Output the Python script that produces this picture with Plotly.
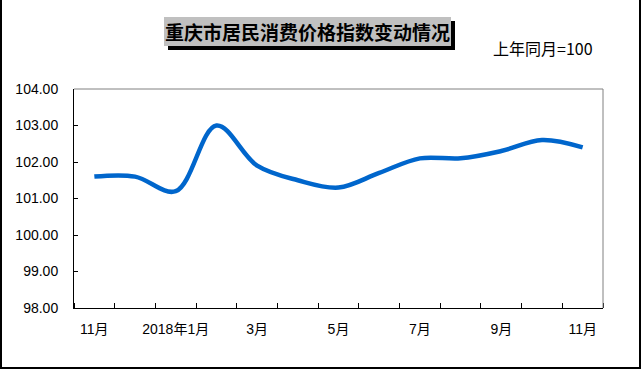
import plotly.graph_objects as go

# Data
months = ["2017年11月", "12月", "2018年1月", "2月", "3月", "4月", "5月",
          "6月", "7月", "8月", "9月", "10月", "11月"]
cpi = [101.6, 101.6, 101.2, 103.0, 101.9, 101.5, 101.3,
       101.7, 102.1, 102.1, 102.3, 102.6, 102.4]
tick_labels = ["11月", "2018年1月", "3月", "5月", "7月", "9月", "11月"]
y_ticks = [98, 99, 100, 101, 102, 103, 104]

W, H = 642, 369
L, R, T, B = 74, 603, 89, 308
PW, PH = R - L, B - T

def px(x):
    return (x - L) / PW

def py(y):
    return (B - y) / PH

idx = list(range(len(months)))

fig = go.Figure()
fig.add_trace(go.Scatter(
    x=idx, y=cpi, mode="lines",
    line=dict(color="#0066CC", width=4.5, shape="spline", smoothing=1.0),
    hoverinfo="skip", showlegend=False,
))

shapes = [
    # plot frame top/right (gray)
    dict(type="line", xref="paper", yref="paper", x0=0, x1=1, y0=1, y1=1,
         line=dict(color="#808080", width=1)),
    dict(type="line", xref="paper", yref="paper", x0=1, x1=1, y0=0, y1=1,
         line=dict(color="#808080", width=1)),
    # outer border
    dict(type="line", xref="paper", yref="paper", x0=px(1), x1=px(1), y0=py(0), y1=py(368),
         line=dict(color="black", width=2)),
    dict(type="line", xref="paper", yref="paper", x0=px(640), x1=px(640), y0=py(0), y1=py(368),
         line=dict(color="black", width=2)),
    dict(type="line", xref="paper", yref="paper", x0=px(0), x1=px(641), y0=py(368), y1=py(368),
         line=dict(color="black", width=2)),
    # title shadow
    dict(type="rect", xref="paper", yref="paper", x0=px(168), x1=px(455), y0=py(50), y1=py(21),
         fillcolor="black", line=dict(width=0)),
    # title box
    dict(type="rect", xref="paper", yref="paper", x0=px(164), x1=px(451), y0=py(46), y1=py(17),
         fillcolor="#C0C0C0", line=dict(width=0)),
]

annotations = [
    dict(text="重庆市居民消费价格指数变动情况", xref="paper", yref="paper",
         x=px(307.5), y=py(31.5), xanchor="center", yanchor="middle", showarrow=False,
         font=dict(family="Noto Sans CJK SC", size=19, color="black", weight="bold")),
    dict(text="上年同月=100", xref="paper", yref="paper",
         x=px(491), y=py(48), xanchor="left", yanchor="middle", showarrow=False,
         font=dict(family="Noto Sans CJK SC, Liberation Sans", size=16, color="black")),
]

fig.update_layout(
    width=W, height=H,
    margin=dict(l=L, r=W - R, t=T, b=H - B, pad=0),
    paper_bgcolor="white", plot_bgcolor="white",
    shapes=shapes, annotations=annotations,
    xaxis=dict(
        range=[-0.5, len(months) - 0.5],
        tickvals=idx[::2], ticktext=tick_labels,
        ticks="", showgrid=False, zeroline=False,
        showline=True, linecolor="black", linewidth=1,
        tickfont=dict(family="Liberation Sans, Noto Sans CJK SC", size=14, color="black"),
        ticklabelstandoff=8,
        minor=dict(tickvals=[i - 0.5 for i in range(len(months) + 1)],
                   ticks="inside", ticklen=5, tickcolor="black", tickwidth=1, showgrid=False),
        fixedrange=True,
    ),
    yaxis=dict(
        range=[98, 104], tickvals=y_ticks, tickformat=".2f",
        ticks="inside", ticklen=4, tickcolor="black",
        showgrid=False, zeroline=False,
        showline=True, linecolor="black", linewidth=1,
        tickfont=dict(family="Liberation Sans", size=14, color="black"),
        ticklabelstandoff=12,
        fixedrange=True,
    ),
)

fig.write_html("out.html", config={"displayModeBar": False},
               post_script="document.body.style.margin='0';")
